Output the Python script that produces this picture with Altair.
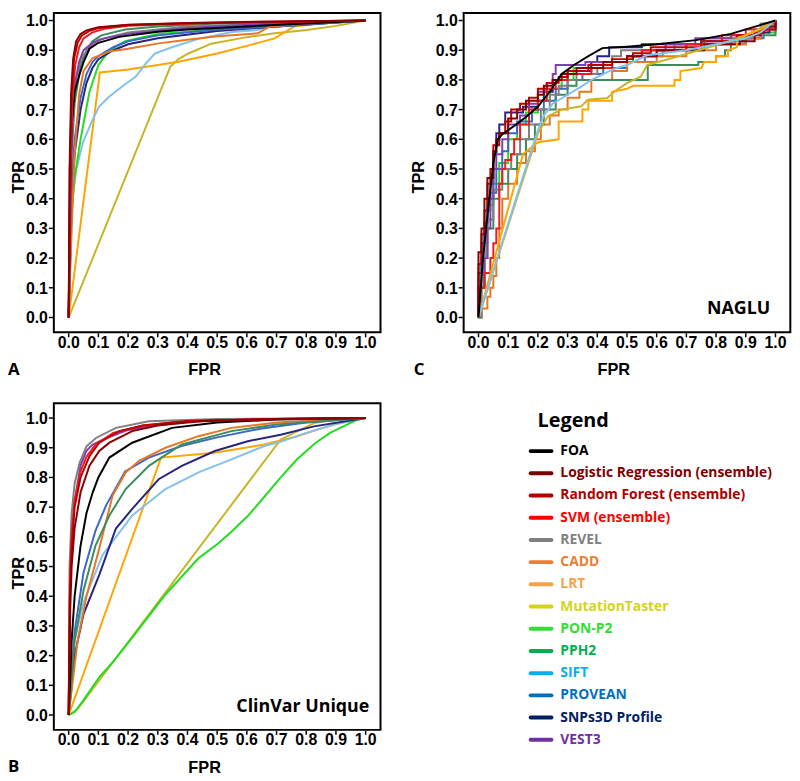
import altair as alt
import pandas as pd

# ---------------- series, colours, ticks ----------------
SERIES = ["FOA", "Logistic Regression (ensemble)", "Random Forest (ensemble)", "SVM (ensemble)",
          "REVEL", "CADD", "LRT", "MutationTaster", "PON-P2", "PPH2", "SIFT", "PROVEAN",
          "SNPs3D Profile", "VEST3"]
LINE_COLORS = ["#000000", "#8b0000", "#c00000", "#ee1c1c", "#808080", "#e87722", "#ffa500",
               "#c8b428", "#22dd22", "#3c8c5c", "#82c0f0", "#3a6ac8", "#262680", "#8040b0"]
LEGEND_COLORS = ["#000000", "#7f0000", "#b00000", "#ff0000", "#808080", "#ed7d31", "#f4a34a",
                 "#d4d41a", "#33dd33", "#00b050", "#00b0f0", "#0070c0", "#002060", "#7030a0"]
DRAW_ORDER = ["MutationTaster", "LRT", "SIFT", "PON-P2", "SNPs3D Profile", "PROVEAN", "CADD",
              "PPH2", "REVEL", "VEST3", "FOA", "SVM (ensemble)", "Random Forest (ensemble)",
              "Logistic Regression (ensemble)"]
TICKS = [0.0, 0.1, 0.2, 0.3, 0.4, 0.5, 0.6, 0.7, 0.8, 0.9, 1.0]

# ---------------- Panel A (FPR, TPR) ----------------
A_FOA = [(0, 0), (0.005, 0.45), (0.01, 0.65), (0.02, 0.76), (0.037, 0.82), (0.05, 0.86), (0.07, 0.905),
         (0.1, 0.925), (0.17, 0.945), (0.3, 0.962), (0.4, 0.97), (0.6, 0.98), (0.8, 0.99), (1, 1)]
A_LR = [(0, 0), (0.003, 0.5), (0.008, 0.75), (0.015, 0.87), (0.025, 0.93), (0.04, 0.955), (0.06, 0.967),
        (0.1, 0.977), (0.2, 0.986), (0.4, 0.992), (0.7, 0.997), (1, 1)]
A_RF = [(0, 0), (0.004, 0.5), (0.01, 0.75), (0.018, 0.87), (0.03, 0.925), (0.045, 0.95), (0.07, 0.965),
        (0.1, 0.975), (0.2, 0.985), (0.4, 0.991), (0.7, 0.996), (1, 1)]
A_SVM = [(0, 0), (0.006, 0.5), (0.012, 0.72), (0.022, 0.85), (0.035, 0.91), (0.05, 0.94), (0.08, 0.96),
         (0.12, 0.972), (0.2, 0.982), (0.4, 0.99), (0.7, 0.995), (1, 1)]
A_REVEL = [(0, 0), (0.01, 0.6), (0.02, 0.78), (0.04, 0.87), (0.07, 0.91), (0.1, 0.935), (0.2, 0.96),
           (0.4, 0.98), (0.7, 0.99), (1, 1)]
A_CADD = [(0, 0), (0.01, 0.3), (0.02, 0.55), (0.035, 0.75), (0.05, 0.83), (0.08, 0.873), (0.137, 0.896),
          (0.2, 0.905), (0.303, 0.923), (0.4, 0.935), (0.503, 0.947), (0.637, 0.957), (0.677, 0.98),
          (0.8, 0.99), (1, 1)]
A_LRT = [(0, 0), (0.105, 0.825), (0.2, 0.835), (0.3, 0.85), (0.37, 0.861), (0.5, 0.889), (0.613, 0.918),
         (0.693, 0.94), (0.76, 0.98), (0.85, 0.99), (1, 1)]
A_MT = [(0, 0), (0.342, 0.844), (0.37, 0.87), (0.403, 0.889), (0.48, 0.922), (0.6, 0.944), (0.693, 0.957),
        (0.803, 0.968), (0.9, 0.982), (1, 1)]
A_PON = [(0, 0), (0.01, 0.35), (0.02, 0.47), (0.04, 0.6), (0.053, 0.67), (0.07, 0.76), (0.1, 0.85),
         (0.137, 0.9), (0.19, 0.93), (0.3, 0.955), (0.5, 0.97), (0.7, 0.98), (1, 1)]
A_PPH2 = [(0, 0), (0.01, 0.55), (0.02, 0.72), (0.04, 0.85), (0.06, 0.9), (0.08, 0.93), (0.11, 0.95),
          (0.19, 0.97), (0.3, 0.98), (0.5, 0.99), (0.7, 0.993), (1, 1)]
A_SIFT = [(0, 0), (0.01, 0.38), (0.026, 0.5), (0.048, 0.59), (0.081, 0.667), (0.103, 0.711), (0.137, 0.744),
          (0.18, 0.778), (0.226, 0.811), (0.26, 0.856), (0.29, 0.889), (0.35, 0.911), (0.44, 0.939),
          (0.55, 0.961), (0.637, 0.968), (0.67, 0.98), (0.8, 0.99), (1, 1)]
A_PROVEAN = [(0, 0), (0.01, 0.45), (0.02, 0.6), (0.04, 0.74), (0.06, 0.82), (0.08, 0.86), (0.1, 0.88),
             (0.15, 0.91), (0.2, 0.93), (0.3, 0.95), (0.5, 0.97), (0.7, 0.98), (1, 1)]
A_SNP = [(0, 0), (0.01, 0.4), (0.02, 0.55), (0.04, 0.7), (0.06, 0.79), (0.08, 0.84), (0.1, 0.87),
         (0.15, 0.9), (0.2, 0.92), (0.3, 0.94), (0.5, 0.965), (0.7, 0.98), (1, 1)]
A_VEST3 = [(0, 0), (0.01, 0.6), (0.02, 0.78), (0.035, 0.86), (0.05, 0.9), (0.08, 0.925), (0.12, 0.94),
           (0.2, 0.955), (0.4, 0.975), (0.7, 0.99), (1, 1)]

# ---------------- Panel B (ClinVar Unique) ----------------
B_FOA = [(0, 0), (0.01, 0.25), (0.02, 0.4), (0.04, 0.57), (0.06, 0.68), (0.081, 0.75), (0.1, 0.8),
         (0.137, 0.867), (0.214, 0.917), (0.348, 0.967), (0.5, 0.985), (0.7, 0.995), (1, 1)]
B_LR = [(0, 0), (0.005, 0.35), (0.01, 0.5), (0.02, 0.63), (0.04, 0.75), (0.07, 0.84), (0.103, 0.889),
        (0.137, 0.917), (0.214, 0.956), (0.3, 0.975), (0.45, 0.99), (0.7, 0.997), (1, 1)]
B_RF = [(0, 0), (0.004, 0.4), (0.01, 0.56), (0.02, 0.7), (0.04, 0.8), (0.07, 0.872), (0.103, 0.917),
        (0.17, 0.956), (0.25, 0.975), (0.4, 0.99), (0.7, 0.997), (1, 1)]
B_SVM = [(0, 0), (0.004, 0.45), (0.01, 0.6), (0.02, 0.72), (0.04, 0.82), (0.06, 0.87), (0.09, 0.91),
         (0.15, 0.95), (0.25, 0.975), (0.4, 0.99), (0.7, 0.997), (1, 1)]
B_REVEL = [(0, 0), (0.003, 0.5), (0.01, 0.68), (0.02, 0.78), (0.037, 0.85), (0.06, 0.905), (0.092, 0.933),
           (0.159, 0.967), (0.27, 0.989), (0.5, 0.997), (1, 1)]
B_CADD = [(0, 0), (0.03, 0.25), (0.06, 0.4), (0.1, 0.55), (0.148, 0.739), (0.192, 0.817), (0.237, 0.856),
          (0.326, 0.9), (0.437, 0.939), (0.548, 0.967), (0.7, 0.985), (1, 1)]
B_LRT = [(0, 0), (0.311, 0.867), (0.49, 0.883), (0.659, 0.911), (0.77, 0.939), (0.837, 0.961),
         (0.9, 0.98), (1, 1)]
B_MT = [(0, 0), (0.03, 0.02), (0.714, 0.928), (0.826, 0.983), (0.9, 0.995), (1, 1)]
B_PON = [(0, 0), (0.02, 0.01), (0.05, 0.05), (0.103, 0.128), (0.15, 0.18), (0.214, 0.261), (0.326, 0.406),
         (0.437, 0.528), (0.5, 0.575), (0.548, 0.617), (0.603, 0.67), (0.659, 0.735), (0.714, 0.8),
         (0.77, 0.862), (0.83, 0.915), (0.88, 0.95), (0.97, 0.994), (1, 1)]
B_PPH2 = [(0, 0), (0.02, 0.25), (0.05, 0.42), (0.09, 0.57), (0.137, 0.672), (0.192, 0.761), (0.27, 0.839),
          (0.381, 0.911), (0.548, 0.956), (0.7, 0.978), (1, 1)]
B_SIFT = [(0, 0), (0.02, 0.25), (0.05, 0.38), (0.114, 0.539), (0.214, 0.672), (0.326, 0.761),
          (0.437, 0.817), (0.548, 0.861), (0.659, 0.906), (0.713, 0.92), (0.8, 0.95), (0.9, 0.98), (1, 1)]
B_PROVEAN = [(0, 0), (0.02, 0.28), (0.05, 0.48), (0.09, 0.62), (0.126, 0.706), (0.19, 0.82), (0.27, 0.867),
             (0.38, 0.906), (0.5, 0.935), (0.65, 0.965), (0.8, 0.985), (1, 1)]
B_SNP = [(0, 0), (0.02, 0.2), (0.05, 0.34), (0.103, 0.472), (0.159, 0.628), (0.214, 0.694), (0.303, 0.794),
         (0.381, 0.839), (0.492, 0.889), (0.603, 0.922), (0.714, 0.944), (0.826, 0.972), (1, 1)]
B_VEST3 = [(0, 0), (0.005, 0.45), (0.01, 0.6), (0.02, 0.72), (0.04, 0.84), (0.06, 0.89), (0.08, 0.91),
           (0.12, 0.93), (0.2, 0.96), (0.35, 0.985), (0.6, 0.995), (1, 1)]

# ---------------- Panel C (NAGLU) ----------------
C_FOA = [(0, 0), (0.015, 0.2), (0.033, 0.37), (0.05, 0.52), (0.065, 0.6), (0.08, 0.617), (0.12, 0.645),
         (0.16, 0.675), (0.2, 0.71), (0.24, 0.76), (0.28, 0.82), (0.323, 0.851), (0.37, 0.88),
         (0.417, 0.907), (0.5, 0.912), (0.6, 0.92), (0.733, 0.934), (0.85, 0.955), (0.9, 0.97), (1, 1)]
C_LR = [(0, 0), (0, 0.22), (0.01, 0.3), (0.02, 0.4), (0.03, 0.47), (0.05, 0.56), (0.06, 0.6), (0.07, 0.62),
        (0.1, 0.67), (0.13, 0.7), (0.16, 0.73), (0.2, 0.75), (0.22, 0.78), (0.25, 0.8), (0.28, 0.82),
        (0.33, 0.84), (0.42, 0.86), (0.5, 0.88), (0.6, 0.9), (0.76, 0.92), (0.88, 0.93), (0.93, 0.96),
        (0.96, 0.98), (1, 1)]
C_RF = [(0, 0), (0, 0.18), (0.01, 0.28), (0.02, 0.36), (0.03, 0.45), (0.04, 0.5), (0.05, 0.58), (0.07, 0.62),
        (0.09, 0.66), (0.11, 0.7), (0.14, 0.72), (0.17, 0.74), (0.2, 0.77), (0.23, 0.79), (0.27, 0.81),
        (0.3, 0.83), (0.37, 0.85), (0.45, 0.87), (0.52, 0.89), (0.58, 0.91), (0.75, 0.93), (0.87, 0.95),
        (0.95, 0.97), (1, 1)]
C_SVM = [(0, 0), (0, 0.1), (0.02, 0.15), (0.04, 0.2), (0.05, 0.25), (0.06, 0.3), (0.07, 0.45), (0.08, 0.5),
         (0.09, 0.53), (0.11, 0.55), (0.12, 0.6), (0.14, 0.65), (0.17, 0.7), (0.2, 0.73), (0.23, 0.77),
         (0.26, 0.8), (0.3, 0.82), (0.38, 0.84), (0.45, 0.86), (0.5, 0.88), (0.55, 0.9), (0.7, 0.92),
         (0.82, 0.95), (0.9, 0.97), (0.97, 0.99), (1, 1)]
C_REVEL = [(0, 0), (0.01, 0.1), (0.02, 0.25), (0.03, 0.33), (0.05, 0.43), (0.08, 0.5), (0.11, 0.55),
           (0.14, 0.6), (0.17, 0.65), (0.21, 0.7), (0.24, 0.75), (0.27, 0.78), (0.3, 0.8), (0.33, 0.82),
           (0.4, 0.84), (0.45, 0.88), (0.48, 0.9), (0.66, 0.92), (0.76, 0.94), (0.93, 0.96), (0.95, 0.99),
           (1, 1)]
C_CADD = [(0, 0), (0.01, 0.03), (0.03, 0.07), (0.04, 0.1), (0.05, 0.14), (0.06, 0.2), (0.07, 0.3),
          (0.08, 0.4), (0.1, 0.45), (0.13, 0.52), (0.16, 0.56), (0.19, 0.6), (0.21, 0.65), (0.24, 0.68),
          (0.27, 0.7), (0.3, 0.74), (0.34, 0.76), (0.38, 0.8), (0.45, 0.83), (0.5, 0.86), (0.6, 0.88),
          (0.7, 0.9), (0.8, 0.92), (0.9, 0.94), (0.95, 0.97), (1, 1)]
C_LRT = [(0, 0), (0.15, 0.55), (0.2, 0.59), (0.27, 0.6), (0.27, 0.66), (0.35, 0.66), (0.35, 0.7),
         (0.37, 0.7), (0.37, 0.73), (0.45, 0.73), (0.45, 0.76), (0.5, 0.77), (0.52, 0.78), (0.66, 0.78),
         (0.66, 0.8), (0.68, 0.8), (0.68, 0.83), (0.75, 0.84), (0.76, 0.86), (0.8, 0.86), (0.8, 0.88),
         (0.84, 0.88), (0.84, 0.9), (0.87, 0.91), (0.87, 0.94), (0.95, 0.97), (1, 1)]
C_MT = [(0, 0), (0.2, 0.62), (0.234, 0.678), (0.279, 0.7), (0.346, 0.711), (0.368, 0.733), (0.434, 0.739),
        (0.457, 0.761), (0.5, 0.789), (0.546, 0.811), (0.568, 0.85), (0.668, 0.878), (0.779, 0.911),
        (0.89, 0.944), (1, 1)]
C_PON = [(0, 0), (0, 0.1), (0.01, 0.2), (0.02, 0.3), (0.03, 0.38), (0.05, 0.45), (0.07, 0.52), (0.1, 0.6),
         (0.13, 0.65), (0.16, 0.69), (0.2, 0.73), (0.24, 0.77), (0.28, 0.8), (0.32, 0.84), (0.38, 0.86),
         (0.52, 0.88), (0.6, 0.9), (0.7, 0.92), (0.82, 0.94), (0.92, 0.96), (1, 1)]
C_PPH2 = [(0, 0), (0.01, 0.1), (0.02, 0.2), (0.03, 0.3), (0.05, 0.4), (0.07, 0.45), (0.1, 0.5), (0.13, 0.55),
          (0.16, 0.6), (0.19, 0.65), (0.22, 0.7), (0.26, 0.75), (0.3, 0.78), (0.33, 0.8), (0.57, 0.85),
          (0.74, 0.86), (0.8, 0.88), (0.83, 0.9), (0.85, 0.93), (0.9, 0.95), (1, 1)]
C_SIFT = [(0, 0), (0.18, 0.57), (0.2, 0.63), (0.22, 0.68), (0.25, 0.72), (0.3, 0.75), (0.35, 0.78),
          (0.38, 0.8), (0.457, 0.837), (0.5, 0.85), (0.567, 0.883), (0.7, 0.9), (0.8, 0.92), (0.9, 0.94),
          (0.95, 0.96), (1, 1)]
C_PROVEAN = [(0, 0), (0, 0.1), (0.01, 0.2), (0.02, 0.3), (0.03, 0.36), (0.04, 0.42), (0.06, 0.5),
             (0.08, 0.56), (0.1, 0.62), (0.13, 0.66), (0.18, 0.7), (0.22, 0.73), (0.26, 0.77), (0.3, 0.8),
             (0.35, 0.82), (0.42, 0.84), (0.5, 0.86), (0.56, 0.88), (0.62, 0.9), (0.75, 0.92), (0.9, 0.94),
             (0.96, 0.97), (1, 1)]
C_SNP = [(0, 0), (0, 0.15), (0.01, 0.25), (0.02, 0.32), (0.03, 0.4), (0.04, 0.45), (0.05, 0.55),
         (0.06, 0.62), (0.07, 0.65), (0.09, 0.69), (0.15, 0.71), (0.2, 0.73), (0.22, 0.76), (0.25, 0.8),
         (0.3, 0.83), (0.38, 0.86), (0.4, 0.88), (0.44, 0.91), (0.55, 0.92), (0.75, 0.93), (0.9, 0.94),
         (0.95, 0.96), (0.98, 0.98), (1, 1)]
C_VEST3 = [(0, 0), (0, 0.1), (0.02, 0.2), (0.03, 0.3), (0.04, 0.4), (0.05, 0.5), (0.06, 0.55), (0.08, 0.6),
           (0.1, 0.65), (0.14, 0.68), (0.17, 0.72), (0.2, 0.76), (0.23, 0.79), (0.25, 0.82), (0.26, 0.85),
           (0.36, 0.86), (0.5, 0.88), (0.55, 0.9), (0.63, 0.92), (0.73, 0.94), (0.85, 0.95), (0.93, 0.97),
           (1, 1)]
C_STEP_SERIES = ["Logistic Regression (ensemble)", "Random Forest (ensemble)", "SVM (ensemble)", "REVEL",
                 "CADD", "PON-P2", "PPH2", "PROVEAN", "SNPs3D Profile", "VEST3"]

PANEL_A = dict(zip(SERIES, [A_FOA, A_LR, A_RF, A_SVM, A_REVEL, A_CADD, A_LRT, A_MT, A_PON, A_PPH2,
                            A_SIFT, A_PROVEAN, A_SNP, A_VEST3]))
PANEL_B = dict(zip(SERIES, [B_FOA, B_LR, B_RF, B_SVM, B_REVEL, B_CADD, B_LRT, B_MT, B_PON, B_PPH2,
                            B_SIFT, B_PROVEAN, B_SNP, B_VEST3]))
PANEL_C = dict(zip(SERIES, [C_FOA, C_LR, C_RF, C_SVM, C_REVEL, C_CADD, C_LRT, C_MT, C_PON, C_PPH2,
                            C_SIFT, C_PROVEAN, C_SNP, C_VEST3]))


def to_frame(panel):
    rows = []
    for name in DRAW_ORDER:
        for i, (x, y) in enumerate(panel[name]):
            rows.append({"series": name, "i": i, "fpr": x, "tpr": y})
    return pd.DataFrame(rows)


W, H = 792, 773
NUM_FONT = "Liberation Sans"
TXT_FONT = "Open Sans"
COLOR = alt.Color("series:N", scale=alt.Scale(domain=SERIES, range=LINE_COLORS), legend=None)
TICK_DF = pd.DataFrame({"t": TICKS})


def text_layer(txt, px, py, size, align, font=TXT_FONT, angle=0, baseline="alphabetic"):
    return alt.Chart(pd.DataFrame({"t": [txt]})).mark_text(
        font=font, fontSize=size, fontWeight="bold", color="black", align=align,
        baseline=baseline, angle=angle).encode(text="t:N", x=alt.value(px), y=alt.value(py))


def panel(panel_data, xdom, xrange, ydom, yrange, xtitle_pos, ytitle_pos, step_series=None, texts=()):
    df = to_frame(panel_data)
    xs = alt.Scale(domain=xdom, range=xrange, nice=False, zero=False)
    ys = alt.Scale(domain=ydom, range=yrange, nice=False, zero=False)
    fl, fb = xrange[0], yrange[0]  # frame left, frame bottom (pixels)
    base = alt.Chart(df).encode(
        x=alt.X("fpr:Q", scale=xs, axis=None),
        y=alt.Y("tpr:Q", scale=ys, axis=None),
        color=COLOR,
        order=alt.Order("i:Q"),
    )
    layers = []
    if step_series:
        layers.append(base.mark_line(strokeWidth=2, interpolate="step-after").transform_filter(
            alt.FieldOneOfPredicate(field="series", oneOf=step_series)))
        layers.append(base.mark_line(strokeWidth=2).transform_filter(
            ~alt.FieldOneOfPredicate(field="series", oneOf=step_series)))
    else:
        layers.append(base.mark_line(strokeWidth=2))
    frame = alt.Chart(pd.DataFrame({"k": [0]})).mark_rect(
        fill="white", fillOpacity=0, stroke="black", strokeWidth=2).encode(
        x=alt.XDatum(xdom[0], scale=xs, axis=None), x2=alt.X2Datum(xdom[1]),
        y=alt.YDatum(ydom[0], scale=ys, axis=None), y2=alt.Y2Datum(ydom[1]))
    layers.append(frame)
    # axis ticks and labels, placed through the panel scales
    xt = alt.X("t:Q", scale=xs, axis=None)
    yt = alt.Y("t:Q", scale=ys, axis=None)
    tick_chart = alt.Chart(TICK_DF)
    layers.append(tick_chart.mark_rule(color="black", strokeWidth=1.5).encode(
        x=xt, y=alt.value(fb + 1), y2=alt.value(fb + 5)))
    layers.append(tick_chart.mark_rule(color="black", strokeWidth=1.5).encode(
        y=yt, x=alt.value(fl - 5), x2=alt.value(fl - 1)))
    layers.append(tick_chart.mark_text(font=NUM_FONT, fontSize=16, fontWeight="bold", color="black",
                                       align="center", baseline="alphabetic").encode(
        x=xt, y=alt.value(fb + 15.5), text=alt.Text("t:Q", format=".1f")))
    layers.append(tick_chart.mark_text(font=NUM_FONT, fontSize=16, fontWeight="bold", color="black",
                                       align="right", baseline="middle", dy=1).encode(
        y=yt, x=alt.value(fl - 6), text=alt.Text("t:Q", format=".1f")))
    # axis titles
    layers.append(text_layer("FPR", xtitle_pos[0], xtitle_pos[1], 16.5, "center", font=NUM_FONT))
    layers.append(text_layer("TPR", ytitle_pos[0], ytitle_pos[1], 16.5, "center", font=NUM_FONT, angle=270))
    for (txt, px, py, size, align) in texts:
        layers.append(text_layer(txt, px, py, size, align))
    return alt.layer(*layers)


# Panel A
pA = panel(PANEL_A, [-0.05, 1.05], [46.3, 376.3], [-0.05, 1.025], [323.7, 1.2],
           (198.7, 367), (16, 167),
           texts=[("A", 0, 367, 17, "left")])
# Panel C
pC = panel(PANEL_C, [-0.05, 1.05], [460.3, 790.3], [-0.05, 1.025], [323.7, 1.2],
           (612, 367), (420, 167),
           step_series=C_STEP_SERIES,
           texts=[("C", 410, 367, 17, "left"), ("NAGLU", 770, 305, 18, "right")])
# Panel B
pB = panel(PANEL_B, [-0.05, 1.05], [46.3, 376.3], [-0.05, 1.05], [725.3, 395.3],
           (198.7, 769), (16, 567),
           texts=[("B", 0, 768, 17, "left"), ("ClinVar Unique", 365, 707, 18, "right")])

# Legend
leg_df = pd.DataFrame({"name": SERIES})
leg_y = alt.Y("name:N", scale=alt.Scale(type="point", domain=SERIES, range=[443.7, 735.3], padding=0),
              axis=None)
leg_color = alt.Color("name:N", scale=alt.Scale(domain=SERIES, range=LEGEND_COLORS), legend=None)
leg_lines = alt.Chart(leg_df).mark_rule(strokeWidth=4, strokeCap="round").encode(
    x=alt.value(528), x2=alt.value(549), y=leg_y, color=leg_color)
leg_text = alt.Chart(leg_df).mark_text(font=TXT_FONT, fontSize=14, fontWeight="bold", align="left",
                                       baseline="middle").encode(
    x=alt.value(558), y=leg_y, text="name:N", color=leg_color)
leg_title = text_layer("Legend", 535, 419, 20, "left")
legend = alt.layer(leg_lines, leg_text, leg_title)

chart = alt.layer(pA, pC, pB, legend).resolve_scale(
    x="independent", y="independent", color="independent"
).properties(
    width=W, height=H, padding=0, autosize=alt.AutoSizeParams(type="none"), background="white"
).configure_view(stroke=None)

chart.save("out.html", embed_options={"renderer": "svg", "actions": False})
